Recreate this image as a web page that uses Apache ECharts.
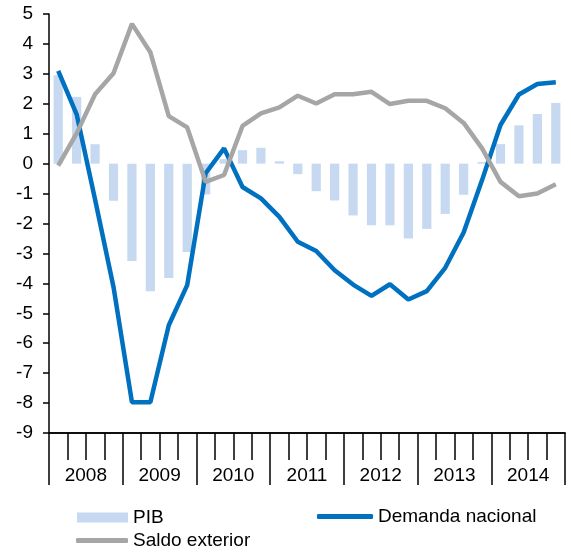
<!DOCTYPE html>
<html>
<head>
<meta charset="utf-8">
<script src="https://cdn.jsdelivr.net/npm/echarts@6/dist/echarts.min.js"></script>
<style>
    html, body { margin: 0; padding: 0; background: #fff; }
    #chart { width: 571px; height: 553px; }
</style>
</head>
<body>
<div id="chart"></div>
<script>
    // trimestres 2008T1 - 2014T4
    var years = ['2008', '2009', '2010', '2011', '2012', '2013', '2014'];
    var quarters = [];
    years.forEach(function (y) {
        for (var q = 1; q <= 4; q++) quarters.push(y + 'T' + q);
    });

    var pib = [2.95, 2.23, 0.65, -1.24, -3.25, -4.26, -3.82, -2.95,
               -1.03, 0.15, 0.45, 0.53, 0.08, -0.35, -0.92, -1.23,
               -1.73, -2.06, -2.06, -2.5, -2.18, -1.68, -1.04, 0.05,
               0.65, 1.28, 1.66, 2.03];
    var demanda = [3.1, 1.65, -1.2, -4.12, -7.97, -7.97, -5.4, -4.06,
                   -0.32, 0.51, -0.78, -1.16, -1.78, -2.61, -2.92, -3.56,
                   -4.04, -4.42, -4.03, -4.54, -4.26, -3.48, -2.3, -0.55,
                   1.29, 2.31, 2.66, 2.72];
    var saldo = [-0.07, 1.01, 2.32, 3.02, 4.67, 3.72, 1.59, 1.21,
                 -0.61, -0.38, 1.26, 1.68, 1.88, 2.27, 2.01, 2.32,
                 2.32, 2.4, 1.99, 2.1, 2.1, 1.85, 1.36, 0.51,
                 -0.61, -1.09, -1.0, -0.69];

    var font = 'Liberation Sans, Arial, sans-serif';
    var chart = echarts.init(document.getElementById('chart'));

    var option = {
        animation: false,
        textStyle: { fontFamily: font },
        grid: { left: 49, right: 6, top: 14, bottom: 120, containLabel: false },
        legend: [
            {
                data: [{ name: 'PIB', icon: 'rect' }],
                left: 77, top: 508, padding: 0,
                itemWidth: 51, itemHeight: 10,
                textStyle: { color: '#000', fontSize: 19, fontFamily: font }
            },
            {
                data: [{ name: 'Demanda nacional', icon: 'roundRect' }],
                left: 317, top: 507, padding: 0,
                itemWidth: 56, itemHeight: 5,
                textStyle: { color: '#000', fontSize: 19, fontFamily: font }
            },
            {
                data: [{ name: 'Saldo exterior', icon: 'roundRect' }],
                left: 76, top: 531, padding: 0,
                itemWidth: 52, itemHeight: 5,
                textStyle: { color: '#000', fontSize: 19, fontFamily: font }
            }
        ],
        xAxis: [
            {
                type: 'category',
                data: quarters,
                position: 'bottom',
                boundaryGap: true,
                axisLine: { show: true, onZero: false, lineStyle: { color: '#000', width: 1.5 } },
                axisTick: { show: true, interval: 0, length: 27, lineStyle: { color: '#000', width: 1.5 } },
                axisLabel: { show: false },
                splitLine: { show: false }
            },
            {
                type: 'category',
                data: years,
                position: 'bottom',
                offset: 0,
                boundaryGap: true,
                axisLine: { show: true, onZero: false, lineStyle: { color: '#000', width: 1.5 } },
                axisTick: { show: true, interval: 0, length: 52, lineStyle: { color: '#000', width: 1.5 } },
                axisLabel: { interval: 0, margin: 33, color: '#000', fontSize: 19, fontFamily: font },
                splitLine: { show: false }
            }
        ],
        yAxis: {
            type: 'value',
            min: -9,
            max: 5,
            interval: 1,
            axisLine: { show: true, lineStyle: { color: '#000', width: 1.5 } },
            axisTick: { show: true, length: 6, lineStyle: { color: '#000', width: 1.5 } },
            axisLabel: { margin: 16, color: '#000', fontSize: 19, fontFamily: font },
            splitLine: { show: false }
        },
        series: [
            {
                name: 'PIB',
                type: 'bar',
                xAxisIndex: 0,
                data: pib,
                barWidth: '50%',
                itemStyle: { color: '#c6d9f1' }
            },
            {
                name: 'Demanda nacional',
                type: 'line',
                xAxisIndex: 0,
                data: demanda,
                symbol: 'none',
                lineStyle: { color: '#0070c0', width: 4.5 },
                itemStyle: { color: '#0070c0' }
            },
            {
                name: 'Saldo exterior',
                type: 'line',
                xAxisIndex: 0,
                data: saldo,
                symbol: 'none',
                lineStyle: { color: '#a6a6a6', width: 4.5 },
                itemStyle: { color: '#a6a6a6' }
            }
        ]
    };

    chart.setOption(option);
</script>
</body>
</html>
